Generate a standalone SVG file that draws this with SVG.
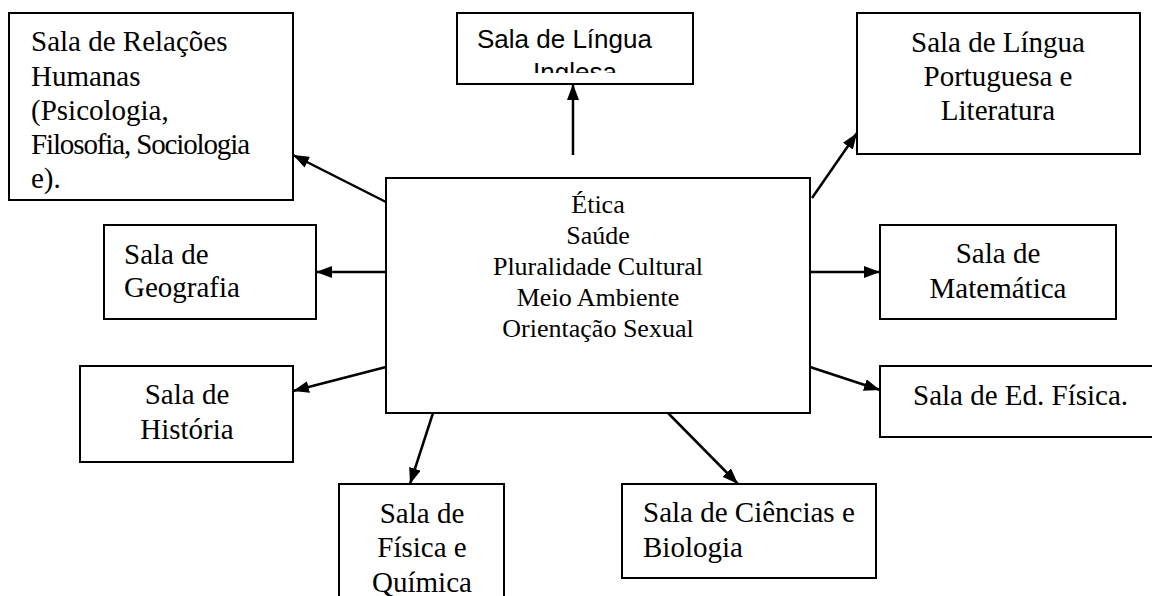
<svg xmlns="http://www.w3.org/2000/svg" width="1152" height="596" viewBox="0 0 1152 596">
<style>
.box{fill:#fff;stroke:#000;stroke-width:2}
.t{font-family:"Liberation Serif","Times New Roman",serif;font-size:29px;fill:#000}
.c{font-family:"Liberation Serif","Times New Roman",serif;font-size:26px;fill:#000;text-anchor:middle}
.s{font-family:"Liberation Sans",Arial,sans-serif;font-size:26px;fill:#000}
.m{text-anchor:middle}
.ln{stroke:#000;stroke-width:2.5;fill:none;marker-end:url(#ah)}
</style>
<defs>
<marker id="ah" markerUnits="userSpaceOnUse" markerWidth="16" markerHeight="12" refX="16" refY="6" orient="auto">
<path d="M0,0 L16,6 L0,12 z" fill="#000"/>
</marker>
<clipPath id="clipIng"><rect x="458" y="14" width="234" height="59"/></clipPath>
</defs>
<rect width="1152" height="596" fill="#fff"/>
<g id="connectors">
<line class="ln" x1="386" y1="202" x2="293" y2="155"/>
<line class="ln" x1="573" y1="155" x2="573" y2="84"/>
<line class="ln" x1="812" y1="198" x2="857" y2="133"/>
<line class="ln" x1="386" y1="272" x2="316" y2="272"/>
<line class="ln" x1="810" y1="272" x2="880" y2="272"/>
<line class="ln" x1="386" y1="367" x2="293" y2="391"/>
<line class="ln" x1="810" y1="367" x2="880" y2="390"/>
<line class="ln" x1="433" y1="413" x2="410" y2="484"/>
<line class="ln" x1="668" y1="413" x2="738" y2="484"/>
</g>
<g id="central">
<rect class="box" x="386" y="178" width="424" height="235"/>
<text class="c" x="598" y="213">Ética</text>
<text class="c" x="598" y="244">Saúde</text>
<text class="c" x="598" y="275">Pluralidade Cultural</text>
<text class="c" x="598" y="306">Meio Ambiente</text>
<text class="c" x="598" y="337">Orientação Sexual</text>
</g>
<g id="relacoes">
<rect class="box" x="9" y="13" width="284" height="187"/>
<text class="t" x="31" y="51">Sala de Relações</text>
<text class="t" x="31" y="86">Humanas</text>
<text class="t" x="31" y="120">(Psicologia,</text>
<text class="t" x="31" y="154" textLength="219" lengthAdjust="spacing">Filosofia, Sociologia</text>
<text class="t" x="31" y="188">e).</text>
</g>
<g id="inglesa">
<rect class="box" x="457" y="13" width="236" height="71"/>
<text class="s" x="477" y="48">Sala de Língua</text>
<text class="s m" x="575" y="81" clip-path="url(#clipIng)">Inglesa</text>
</g>
<g id="portuguesa">
<rect class="box" x="857" y="13" width="283" height="141"/>
<text class="t m" x="998" y="52">Sala de Língua</text>
<text class="t m" x="998" y="86">Portuguesa e</text>
<text class="t m" x="998" y="120">Literatura</text>
</g>
<g id="geografia">
<rect class="box" x="104" y="225" width="212" height="94"/>
<text class="t" x="124" y="264">Sala de</text>
<text class="t" x="124" y="297">Geografia</text>
</g>
<g id="matematica">
<rect class="box" x="880" y="225" width="236" height="94"/>
<text class="t m" x="998" y="263">Sala de</text>
<text class="t m" x="998" y="298">Matemática</text>
</g>
<g id="historia">
<rect class="box" x="80" y="366" width="213" height="96"/>
<text class="t m" x="187" y="404">Sala de</text>
<text class="t m" x="187" y="439">História</text>
</g>
<g id="edfisica">
<rect class="box" x="880" y="366" width="280" height="71"/>
<text class="t" x="913" y="405">Sala de Ed. Física.</text>
</g>
<g id="fisica">
<rect class="box" x="339" y="484" width="165" height="130"/>
<text class="t m" x="422" y="523">Sala de</text>
<text class="t m" x="422" y="557">Física e</text>
<text class="t m" x="422" y="592">Química</text>
</g>
<g id="ciencias">
<rect class="box" x="622" y="484" width="254" height="94"/>
<text class="t" x="643" y="522">Sala de Ciências e</text>
<text class="t" x="643" y="557">Biologia</text>
</g>
</svg>
